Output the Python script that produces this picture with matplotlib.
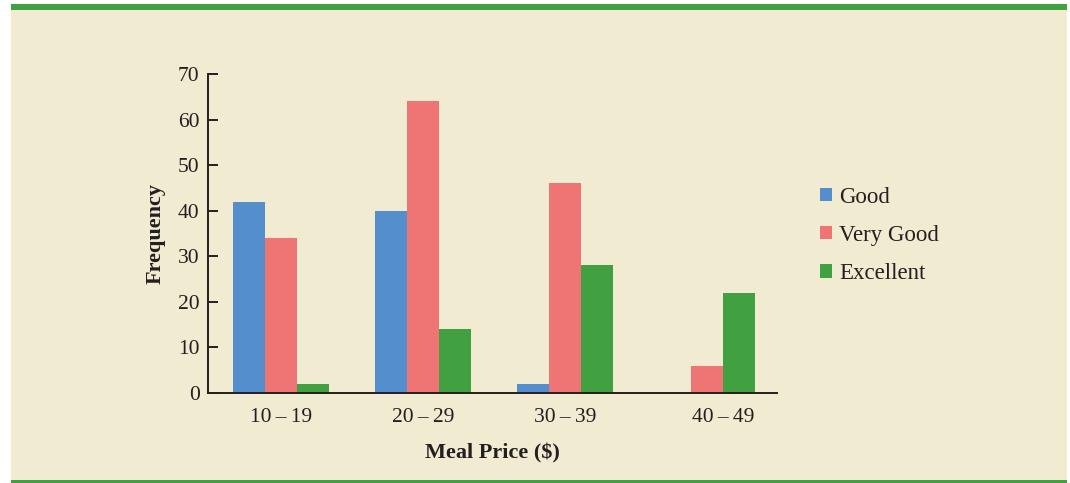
import matplotlib
matplotlib.use("Agg")
import matplotlib.pyplot as plt
from matplotlib.patches import Rectangle, Patch
import numpy as np

categories = ["10\u2009\u2013\u200919", "20\u2009\u2013\u200929", "30\u2009\u2013\u200939", "40\u2009\u2013\u200949"]
series_names = ["Good", "Very Good", "Excellent"]
good = [42, 40, 2, 0]
very_good = [34, 64, 46, 6]
excellent = [2, 14, 28, 22]
yticks = [0, 10, 20, 30, 40, 50, 60, 70]

colors = ["#548ECC", "#EF7474", "#41A141"]
bg = "#F0EBD1"
border_green = "#41A141"
text_color = "#231F20"

plt.rcParams["font.family"] = ["Liberation Serif", "DejaVu Serif"]

W, H = 1070, 483
fig = plt.figure(figsize=(W / 100, H / 100), dpi=100, facecolor="white")

# panel background and green bands
fig.patches.append(Rectangle((11 / W, 3 / H), (1067 - 11) / W, (473 - 3) / H,
                             transform=fig.transFigure, facecolor=bg, edgecolor="none", zorder=-10))
fig.patches.append(Rectangle((11 / W, (H - 10) / H), (1067 - 11) / W, 6 / H,
                             transform=fig.transFigure, facecolor=border_green, edgecolor="none", zorder=-10))
fig.patches.append(Rectangle((11 / W, 0), (1067 - 11) / W, 3 / H,
                             transform=fig.transFigure, facecolor=border_green, edgecolor="none", zorder=-10))

ax = fig.add_axes([208 / W, (H - 393) / H, (776.5 - 208) / W, (393 - 74) / H])
ax.set_facecolor("none")
ax.set_zorder(1)

x = np.arange(len(categories))
bw = 0.225
all_series = [good, very_good, excellent]
for i, (vals, c, name) in enumerate(zip(all_series, colors, series_names)):
    ax.bar(x + (i - 1) * bw, vals, width=bw, color=c, label=name, linewidth=0, zorder=2)

# tick positions: centre of the non-empty bars of each group
tick_pos = []
for j in range(len(categories)):
    offs = [(i - 1) * bw for i in range(3) if all_series[i][j] > 0]
    tick_pos.append(x[j] + (min(offs) + max(offs)) / 2)

ax.set_xlim(-0.514, 3.49)
ax.set_ylim(0, 70)
ax.set_yticks(yticks)
ax.set_xticks(tick_pos)
ax.set_xticklabels(categories)

for s in ["top", "right"]:
    ax.spines[s].set_visible(False)
for s in ["left", "bottom"]:
    ax.spines[s].set_color(text_color)
    ax.spines[s].set_linewidth(1.4)
    ax.spines[s].set_zorder(3)

ax.tick_params(axis="y", direction="in", length=7, width=1.4, color=text_color,
               labelsize=15.5, labelcolor=text_color, pad=6)
ax.tick_params(axis="x", length=0, labelsize=15.5, labelcolor=text_color, pad=11)

ax.set_ylabel("Frequency", fontsize=16, fontweight="bold", color=text_color, labelpad=9)
ax.set_xlabel("Meal Price ($)", fontsize=16, fontweight="bold", color=text_color, labelpad=12)

handles = [Patch(facecolor=c, edgecolor="none") for c in colors]
fig.legend(handles, series_names, loc="upper left", bbox_to_anchor=(799 / W, (H - 166) / H),
           frameon=False, fontsize=16.5, handlelength=0.52, handleheight=0.52,
           handletextpad=0.33, labelspacing=0.75, labelcolor=text_color)

fig.savefig("out.png", dpi=100, facecolor="white")
